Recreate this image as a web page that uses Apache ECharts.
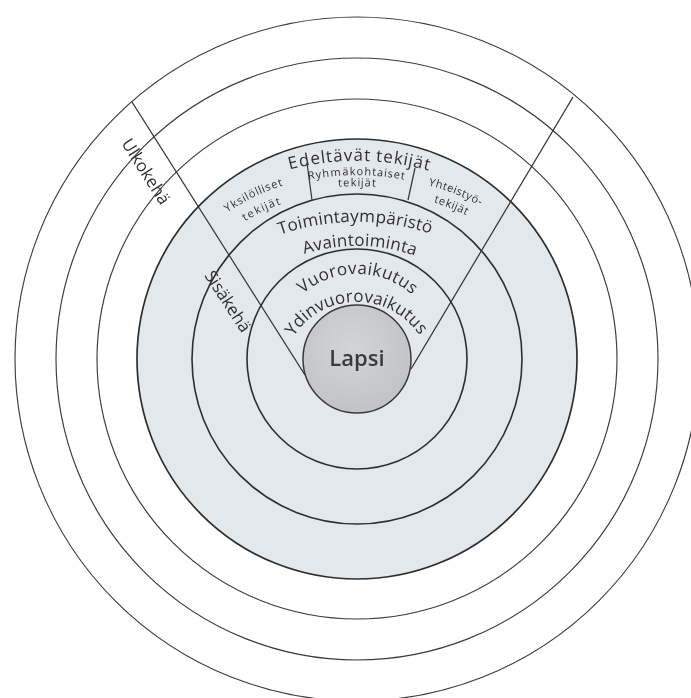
<!DOCTYPE html>
<html><head><meta charset="utf-8">
<script src="https://cdn.jsdelivr.net/npm/echarts@6/dist/echarts.min.js"></script>
<style>html,body{margin:0;padding:0;background:#fff}#c{width:691px;height:698px}</style>
</head><body><div id="c"></div>
<script>
// ---- diagram data (units ~ px, centre of the rings at 0,0, y up) ----
const outerRings = [342, 301, 260];
const shadedRing = [220];
const innerRings = [165, 110];
const coreRing = [54];

// long sector lines and short dividers: [x1, y1, x2, y2]
const sectorLines = [[-225, 257, -52, -16], [216, 262, 54, -10]];
const dividerLines = [[-50, 196, -45, 159], [58, 191, 51, 159]];

// texts set along arcs
const arcTexts   = ['Edeltävät tekijät', 'Ryhmäkohtaiset', 'tekijät', 'Toimintaympäristö', 'Avaintoiminta', 'Vuorovaikutus', 'Ydinvuorovaikutus', 'Yksilölliset', 'tekijät', 'Yhteistyö-', 'tekijät'];
const arcCentreX = [0, 0, 0, 0, 0, 0, 0, -17, -17, 26, 26];
const arcCentreY = [-67, -67, -67, -98, -62, 2, -18, -15, -15, -18, -18];
const arcRadius  = [270, 254, 243, 240, 180, 88, 80, 200, 183, 200, 185];
const arcFrom    = [103.7, 100.4, 94, 108, 105.8, 127.1, 144, 124, 121.3, 75.8, 73.2];
const arcTo      = [75.0, 79.6, 86, 73, 72.2, 51.3, 36.9, 107.4, 109.8, 61, 63.4];
const arcLevel   = ['big', 'small', 'small', 'big', 'big', 'big', 'big', 'small', 'small', 'small', 'small'];

// straight texts
const plainTexts  = ['Ulkokehä', 'Sisäkehä', 'Lapsi'];
const plainX      = [-212, -130, 0];
const plainY      = [187, 57, -1];
const plainAngle  = [-57.5, -57, 0];
const plainLevel  = ['big', 'big', 'core'];

// ---- styles ----
const FONT = '"Open Sans", "Noto Sans", sans-serif';
const fontStyle = { big: { size: 17, weight: 'normal' }, small: { size: 11, weight: 'normal' }, core: { size: 22, weight: '600' } };
const TEXT_COLOR = '#303030';

const mctx = document.createElement('canvas').getContext('2d');
function measure(ch, lvl) {
  const f = fontStyle[lvl];
  mctx.font = f.weight + ' ' + f.size + 'px ' + FONT;
  return mctx.measureText(ch).width;
}

function ringSeries(radii, style, z) {
  return {
    type: 'custom', z: z, silent: true,
    data: radii.map(r => [0, 0, r]),
    renderItem: function (params, api) {
      const c = api.coord([0, 0]);
      const e = api.coord([api.value(2), 0]);
      return { type: 'circle', shape: { cx: c[0], cy: c[1], r: e[0] - c[0] }, style: style };
    }
  };
}

function segSeries(segs, style, z) {
  return {
    type: 'custom', z: z, silent: true,
    data: segs.map(s => [s[0], s[1], s[2], s[3]]),
    renderItem: function (params, api) {
      const a = api.coord([api.value(0), api.value(1)]);
      const b = api.coord([api.value(2), api.value(3)]);
      return { type: 'line', shape: { x1: a[0], y1: a[1], x2: b[0], y2: b[1] }, style: style };
    }
  };
}

const arcSeries = {
  type: 'custom', z: 20, silent: true,
  data: arcTexts.map((t, i) => [arcCentreX[i], arcCentreY[i], i]),
  renderItem: function (params, api) {
    const i = api.value(2);
    const txt = Array.from(arcTexts[i]);
    const lvl = arcLevel[i];
    const f = fontStyle[lvl];
    const ws = txt.map(ch => measure(ch, lvl));
    const centres = [];
    let acc = 0;
    ws.forEach(w => { centres.push(acc + w / 2); acc += w; });
    const s0 = centres[0], s1 = centres[centres.length - 1];
    const children = [];
    txt.forEach((ch, k) => {
      if (ch === ' ') return;
      const u = (centres[k] - s0) / (s1 - s0);
      const th = (arcFrom[i] + (arcTo[i] - arcFrom[i]) * u) * Math.PI / 180;
      const p = api.coord([arcCentreX[i] + arcRadius[i] * Math.cos(th), arcCentreY[i] + arcRadius[i] * Math.sin(th)]);
      children.push({
        type: 'text', x: p[0], y: p[1], rotation: th - Math.PI / 2,
        style: { text: ch, fontSize: f.size, fontWeight: f.weight, fontFamily: FONT, fill: TEXT_COLOR, align: 'center', verticalAlign: 'middle' }
      });
    });
    return { type: 'group', children: children };
  }
};

const plainSeries = {
  type: 'custom', z: 21, silent: true,
  data: plainTexts.map((t, i) => [plainX[i], plainY[i], i]),
  renderItem: function (params, api) {
    const i = api.value(2);
    const f = fontStyle[plainLevel[i]];
    const p = api.coord([api.value(0), api.value(1)]);
    return {
      type: 'text', x: p[0], y: p[1], rotation: plainAngle[i] * Math.PI / 180,
      style: { text: plainTexts[i], fontSize: f.size, fontWeight: f.weight, fontFamily: FONT, fill: plainLevel[i] === 'core' ? '#3a3a3a' : TEXT_COLOR, align: 'center', verticalAlign: 'middle' }
    };
  }
};

const chart = echarts.init(document.getElementById('c'), null, { renderer: 'canvas' });
chart.setOption({
  animation: false,
  backgroundColor: '#ffffff',
  grid: { left: 0, right: 0, top: 0, bottom: 0 },
  xAxis: { type: 'value', min: -357, max: 334, show: false },
  yAxis: { type: 'value', min: -339, max: 359, show: false },
  series: [
    ringSeries(shadedRing, { fill: '#e3e8ec', stroke: '#2e2e2e', lineWidth: 1.7 }, 1),
    ringSeries(outerRings, { fill: 'none', stroke: '#3c3c3c', lineWidth: 1.15 }, 2),
    ringSeries(innerRings, { fill: 'none', stroke: '#2e2e2e', lineWidth: 1.6 }, 3),
    segSeries(sectorLines, { stroke: '#333333', lineWidth: 1.3 }, 4),
    segSeries(dividerLines, { stroke: '#333333', lineWidth: 1.2 }, 5),
    ringSeries(coreRing, {
      fill: new echarts.graphic.RadialGradient(0.45, 0.4, 0.7, [{ offset: 0, color: '#d2d4d6' }, { offset: 1, color: '#bec1c4' }]),
      stroke: '#3a3a3a', lineWidth: 1.5
    }, 6),
    arcSeries,
    plainSeries
  ]
});
</script></body></html>
